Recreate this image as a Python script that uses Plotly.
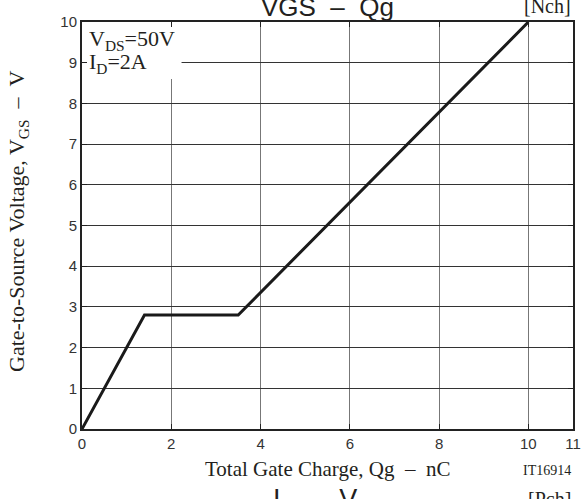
import plotly.graph_objects as go

# Data
qg_nc = [0, 1.4, 3.5, 10]
vgs_v = [0, 2.8, 2.8, 10]
x_ticks = [0, 2, 4, 6, 8, 10, 11]
y_ticks = [0, 1, 2, 3, 4, 5, 6, 7, 8, 9, 10]

SERIF = "Liberation Serif"
SANS = "Liberation Sans"
TXT = "#231f20"

fig = go.Figure()
fig.add_trace(go.Scatter(x=qg_nc, y=vgs_v, mode="lines",
                         line=dict(color="#1a1a1a", width=3),
                         showlegend=False, hoverinfo="skip"))

fig.update_layout(
    width=582, height=499,
    margin=dict(l=82, r=9, t=22, b=70),
    paper_bgcolor="white", plot_bgcolor="white",
    showlegend=False,
)
fig.update_xaxes(range=[0, 11], tickvals=x_ticks, ticktext=[str(v) for v in x_ticks],
                 showgrid=True, gridcolor="#777777", gridwidth=1,
                 showline=True, linecolor="#222222", linewidth=2, mirror="ticks",
                 ticks="inside", ticklen=5, tickcolor="#222222",
                 tickfont=dict(family=SANS, size=15, color="#333333"),
                 zeroline=False, fixedrange=True, automargin=False)
fig.update_yaxes(range=[0, 10], tickvals=y_ticks,
                 showgrid=True, gridcolor="#333333", gridwidth=1,
                 showline=True, linecolor="#222222", linewidth=2, mirror="ticks",
                 ticks="inside", ticklen=5, tickcolor="#222222",
                 tickfont=dict(family=SANS, size=15, color="#333333"),
                 zeroline=False, fixedrange=True, automargin=False)

# white box behind the condition text
fig.add_shape(type="rect", xref="x", yref="y", x0=0, x1=2.23, y0=8.6, y1=10,
              fillcolor="white", line=dict(width=0), layer="between")

ann = [
    dict(text="VGS\u00a0\u00a0\u2013\u00a0\u00a0Qg", x=0.5, y=1.037, xanchor="center", yanchor="middle",
         font=dict(family=SANS, size=26, color=TXT)),
    dict(text="[Nch]", x=1.0, y=1.04, xanchor="right", yanchor="middle",
         font=dict(family=SERIF, size=20, color=TXT)),
    dict(text="Total Gate Charge, Qg\u00a0\u00a0\u2013\u00a0\u00a0nC", x=0.5, y=-0.098, xanchor="center", yanchor="middle",
         font=dict(family=SERIF, size=21, color=TXT)),
    dict(text="IT16914", x=1.0, y=-0.101, xanchor="right", yanchor="middle",
         font=dict(family=SERIF, size=14, color=TXT)),
    dict(text="I<sub>D</sub>\u00a0\u00a0\u2013\u00a0\u00a0V<sub>DS</sub>", x=0.5, y=-0.178, xanchor="center", yanchor="middle",
         font=dict(family=SANS, size=27, color=TXT)),
    dict(text="[Pch]", x=1.0, y=-0.172, xanchor="right", yanchor="middle",
         font=dict(family=SERIF, size=20, color=TXT)),
    dict(text="Gate-to-Source Voltage, V<sub>GS</sub>\u00a0\u00a0\u2013\u00a0\u00a0V", x=-0.130, y=0.509,
         xanchor="center", yanchor="middle", textangle=-90,
         font=dict(family=SERIF, size=22, color=TXT)),
    dict(text="V<sub>DS</sub>=50V", x=0.010, y=0.956, xanchor="left", yanchor="middle",
         height=22, font=dict(family=SERIF, size=22, color=TXT)),
    dict(text="I<sub>D</sub>=2A", x=0.010, y=0.899, xanchor="left", yanchor="middle",
         height=22, font=dict(family=SERIF, size=22, color=TXT)),
]
for a in ann:
    a.update(xref="paper", yref="paper", showarrow=False)
    fig.add_annotation(**a)

fig.write_html("out.html")
